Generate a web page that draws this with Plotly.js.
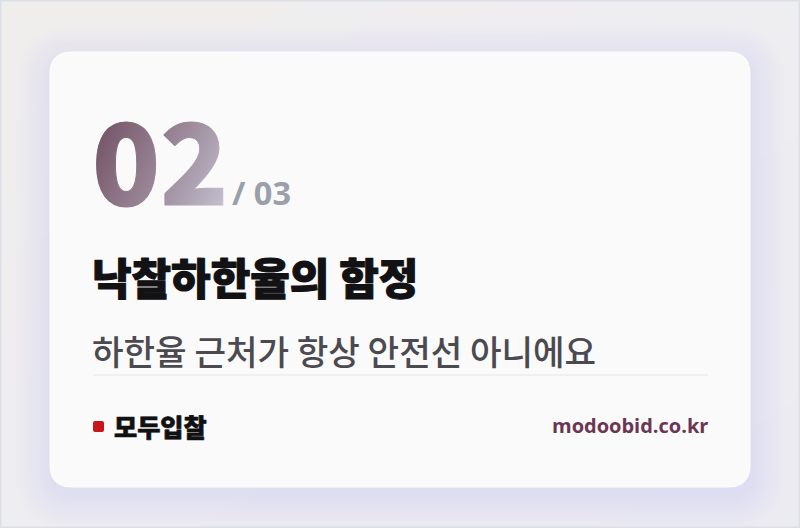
<!DOCTYPE html>
<html>
<head>
<meta charset="utf-8">
<script src="https://cdn.plot.ly/plotly-3.0.1.min.js"></script>
<style>
html, body { margin: 0; padding: 0; background: #eeecee; }
#card { width: 800px; height: 528px; }
</style>
</head>
<body>
<div id="card"></div>
<script>
// card texts
var page_no = "02";
var page_total = "03";
var title_text = "낙찰하한율의 함정";
var sub_text = "하한율 근처가 항상 안전선 아니에요";
var brand_text = "모두입찰";
var url_text = "modoobid.co.kr";

var W = 800, H = 528;
var card = [50, 52, 750, 487]; // x0, y0, x1, y1 in px

function round_rect(x0, y0, x1, y1, r) {
    return "M" + (x0 + r) + "," + y0 +
        " L" + (x1 - r) + "," + y0 +
        " Q" + x1 + "," + y0 + " " + x1 + "," + (y0 + r) +
        " L" + x1 + "," + (y1 - r) +
        " Q" + x1 + "," + y1 + " " + (x1 - r) + "," + y1 +
        " L" + (x0 + r) + "," + y1 +
        " Q" + x0 + "," + y1 + " " + x0 + "," + (y1 - r) +
        " L" + x0 + "," + (y0 + r) +
        " Q" + x0 + "," + y0 + " " + (x0 + r) + "," + y0 + " Z";
}

// soft page background
var bg = {
    type: "heatmap",
    x: [0, W],
    y: [0, H],
    z: [[0, 1], [1, 2]],
    zsmooth: "best",
    colorscale: [[0, "#f0eeec"], [0.5, "#eeedf0"], [1, "#ecebf1"]],
    showscale: false,
    hoverinfo: "skip",
};

var shapes = [];

// shadow under the card
for (var i = 1; i <= 14; i++) {
    var s = i * 2.5;
    shapes.push({
        type: "path",
        layer: "above",
        path: round_rect(card[0] - s, card[1] - s + 8, card[2] + s, card[3] + s + 8, 22 + s),
        fillcolor: "rgba(118,116,136,0.005)",
        line: { width: 0 },
    });
}

// card
shapes.push({
    type: "path",
    path: round_rect(card[0], card[1], card[2], card[3], 22),
    fillcolor: "#fbfafb",
    line: { color: "rgba(255,255,255,0.9)", width: 1 },
});

// divider
shapes.push({
    type: "line",
    x0: 93, x1: 708, y0: 375, y1: 375,
    line: { color: "#e6e5e9", width: 1 },
});

// red brand mark
shapes.push({
    type: "path",
    path: round_rect(93, 421, 104, 432, 2),
    fillcolor: "#c8161b",
    line: { width: 0 },
});

// outer frame
shapes.push({
    type: "rect",
    x0: 0.5, x1: W - 0.5, y0: 0.5, y1: H - 0.5,
    line: { color: "#dbe0e7", width: 2 },
});

var annotations = [
    {
        text: page_no,
        x: 90, y: 239, xanchor: "left", yanchor: "bottom",
        font: { family: "Noto Sans CJK KR", size: 112, weight: 900, color: "#8a6f80" },
    },
    {
        text: "/ " + page_total,
        x: 230, y: 217, xanchor: "left", yanchor: "bottom",
        font: { family: "Open Sans", size: 32.5, weight: 700, color: "#9aa0a9" },
    },
    {
        text: title_text,
        x: 90, y: 276, xanchor: "left", yanchor: "middle",
        font: { family: "Noto Sans CJK KR", size: 43, weight: 900, color: "#121214" },
    },
    {
        text: sub_text,
        x: 90, y: 350, xanchor: "left", yanchor: "middle",
        font: { family: "Noto Sans CJK KR", size: 34.3, weight: 500, color: "#4a4a50" },
    },
    {
        text: brand_text,
        x: 112, y: 426, xanchor: "left", yanchor: "middle",
        font: { family: "Noto Sans CJK KR", size: 25.2, weight: 900, color: "#111113" },
    },
    {
        text: url_text,
        x: 710, y: 425, xanchor: "right", yanchor: "middle",
        font: { family: "Open Sans", size: 20, weight: 700, color: "#6b3652" },
    },
];
annotations.forEach(function (a) {
    a.xref = "x";
    a.yref = "y";
    a.showarrow = false;
});

var layout = {
    width: W,
    height: H,
    margin: { l: 0, r: 0, t: 0, b: 0 },
    paper_bgcolor: "#eeecee",
    plot_bgcolor: "rgba(0,0,0,0)",
    xaxis: { range: [0, W], visible: false, fixedrange: true },
    yaxis: { range: [H, 0], visible: false, fixedrange: true },
    shapes: shapes,
    annotations: annotations,
    showlegend: false,
};

Plotly.newPlot("card", [bg], layout, { staticPlot: true, displayModeBar: false }).then(function (gd) {
    // gradient fill on the big page number
    var ns = "http://www.w3.org/2000/svg";
    var svg = gd.querySelector("svg.main-svg");
    var defs = svg.querySelector("defs") || svg.insertBefore(document.createElementNS(ns, "defs"), svg.firstChild);
    var grad = document.createElementNS(ns, "linearGradient");
    grad.setAttribute("id", "num-grad");
    grad.setAttribute("x1", "0");
    grad.setAttribute("y1", "0.2");
    grad.setAttribute("x2", "1");
    grad.setAttribute("y2", "0.8");
    [["0", "#6d4a5e"], ["0.55", "#9a8797"], ["1", "#c4c2d2"]].forEach(function (st) {
        var stop = document.createElementNS(ns, "stop");
        stop.setAttribute("offset", st[0]);
        stop.setAttribute("stop-color", st[1]);
        grad.appendChild(stop);
    });
    defs.appendChild(grad);
    var texts = gd.querySelectorAll(".annotation-text");
    if (texts[0]) {
        texts[0].style.fill = "url(#num-grad)";
        texts[0].style.stroke = "url(#num-grad)";
        texts[0].style.strokeWidth = "1px";
    }
    // heavier strokes for the black headings
    [[2, 1.1], [4, 0.7]].forEach(function (p) {
        var t = texts[p[0]];
        if (!t) return;
        t.style.stroke = "#121214";
        t.style.strokeWidth = p[1] + "px";
        t.style.strokeLinejoin = "round";
    });
});
</script>
</body>
</html>
